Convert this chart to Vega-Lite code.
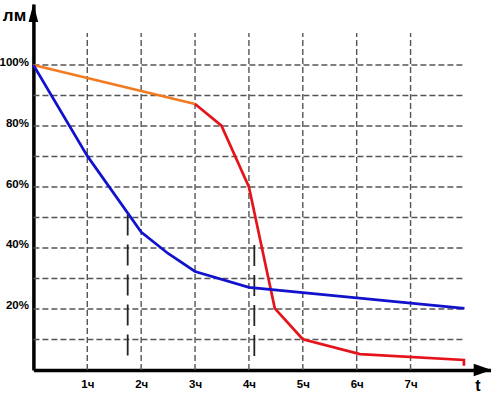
{
  "$schema": "https://vega.github.io/schema/vega-lite/v6.json",
  "width": 458,
  "height": 366,
  "autosize": "none",
  "padding": {"left": 33.4, "top": 4, "right": 0, "bottom": 26},
  "background": "white",
  "config": {"view": {"stroke": null}, "font": "Liberation Sans"},
  "datasets": {
    "hgrid": [{"y": 10}, {"y": 20}, {"y": 30}, {"y": 40}, {"y": 50}, {"y": 60}, {"y": 70}, {"y": 80}, {"y": 90}, {"y": 100}],
    "vgrid": [{"x": 1}, {"x": 2}, {"x": 3}, {"x": 4}, {"x": 5}, {"x": 6}, {"x": 7}],
    "marks": [{"x": 1.75, "y0": 2.5, "y1": 51}, {"x": 4.1, "y0": 2.5, "y1": 41}],
    "curves": [
      {"s": "orange", "o": 1, "t": 0, "v": 100},
      {"s": "orange", "o": 2, "t": 3, "v": 87.2},
      {"s": "red", "o": 1, "t": 3, "v": 87.2},
      {"s": "red", "o": 2, "t": 3.49, "v": 80.1},
      {"s": "red", "o": 3, "t": 4.0, "v": 60},
      {"s": "red", "o": 4, "t": 4.48, "v": 20.2},
      {"s": "red", "o": 5, "t": 5.0, "v": 10.1},
      {"s": "red", "o": 6, "t": 6.06, "v": 5.2},
      {"s": "red", "o": 7, "t": 7.99, "v": 3.3},
      {"s": "red", "o": 8, "t": 7.99, "v": 1.4},
      {"s": "blue", "o": 1, "t": 0, "v": 100},
      {"s": "blue", "o": 2, "t": 1, "v": 70.2},
      {"s": "blue", "o": 3, "t": 2, "v": 45.2},
      {"s": "blue", "o": 4, "t": 2.5, "v": 38.2},
      {"s": "blue", "o": 5, "t": 3, "v": 32.3},
      {"s": "blue", "o": 6, "t": 4, "v": 27.1},
      {"s": "blue", "o": 7, "t": 8, "v": 20.2}
    ],
    "arrows": [
      {"x": 0, "y": 117.1, "shape": "M-0.53,1L0,-1L0.53,1Z"},
      {"x": 8.34, "y": 0, "shape": "M-1,-0.7L1,0L-1,0.7Z"}
    ],
    "labels": [
      {"x": -0.35, "y": 114.5, "text": "лм", "size": 17},
      {"x": 8.25, "y": -6.8, "text": "t", "size": 16}
    ]
  },
  "layer": [
    {
      "data": {"name": "hgrid"},
      "mark": {"type": "rule", "color": "#555555", "strokeWidth": 1.4, "strokeDash": [6, 3]},
      "encoding": {
        "y": {"field": "y", "type": "quantitative", "scale": {"domain": [0, 120], "nice": false},
          "axis": {"values": [20, 40, 60, 80, 100], "labelExpr": "datum.value + '%'", "title": null, "grid": false, "ticks": false,
            "domainColor": "black", "domainWidth": 3.5, "labelFont": "Liberation Sans", "labelFontWeight": "bold", "labelFontSize": 11.5,
            "labelColor": "black", "labelPadding": 5, "labelBaseline": "alphabetic"}},
        "x": {"datum": 0, "type": "quantitative", "scale": {"domain": [0, 8.5], "nice": false},
          "axis": {"values": [1, 2, 3, 4, 5, 6, 7], "labelExpr": "datum.value + 'ч'", "title": null, "grid": false, "ticks": false,
            "domainColor": "black", "domainWidth": 3.5, "labelFont": "Liberation Sans", "labelFontWeight": "bold", "labelFontSize": 11.5,
            "labelColor": "black", "labelPadding": 9, "labelBaseline": "top"}},
        "x2": {"datum": 8}
      }
    },
    {
      "data": {"name": "vgrid"},
      "mark": {"type": "rule", "color": "#555555", "strokeWidth": 1.4, "strokeDash": [6, 3]},
      "encoding": {
        "x": {"field": "x", "type": "quantitative"},
        "y": {"datum": 0, "type": "quantitative"},
        "y2": {"datum": 110.5}
      }
    },
    {
      "data": {"name": "marks"},
      "mark": {"type": "rule", "color": "#222222", "strokeWidth": 1.8, "strokeDash": [21, 9]},
      "encoding": {
        "x": {"field": "x", "type": "quantitative"},
        "y": {"field": "y1", "type": "quantitative"},
        "y2": {"field": "y0"}
      }
    },
    {
      "data": {"name": "curves"},
      "mark": {"type": "line", "strokeWidth": 2.7, "strokeJoin": "miter"},
      "encoding": {
        "x": {"field": "t", "type": "quantitative"},
        "y": {"field": "v", "type": "quantitative"},
        "order": {"field": "o", "type": "quantitative"},
        "color": {"field": "s", "type": "nominal", "legend": null,
          "scale": {"domain": ["orange", "red", "blue"], "range": ["#F47A20", "#E5141B", "#1212CC"]}}
      }
    },
    {
      "data": {"name": "arrows"},
      "mark": {"type": "point", "filled": true, "color": "black", "opacity": 1, "strokeWidth": 0},
      "encoding": {
        "x": {"field": "x", "type": "quantitative"},
        "y": {"field": "y", "type": "quantitative"},
        "shape": {"field": "shape", "type": "nominal", "scale": null, "legend": null},
        "size": {"value": 330}
      }
    },
    {
      "data": {"name": "labels"},
      "mark": {"type": "text", "fontWeight": "bold", "font": "Liberation Sans", "color": "black", "baseline": "alphabetic", "align": "center"},
      "encoding": {
        "x": {"field": "x", "type": "quantitative"},
        "y": {"field": "y", "type": "quantitative"},
        "text": {"field": "text"},
        "size": {"field": "size", "type": "quantitative", "scale": null, "legend": null}
      }
    }
  ]
}
